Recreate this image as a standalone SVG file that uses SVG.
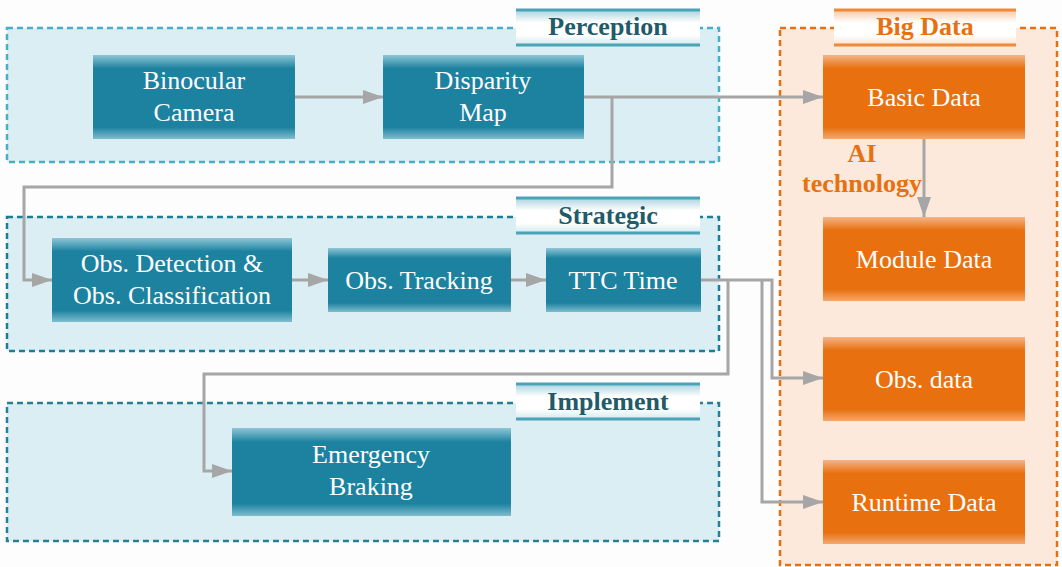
<svg xmlns="http://www.w3.org/2000/svg" width="1062" height="567" viewBox="0 0 1062 567">
<style>
.cont{stroke-width:2.5;stroke-dasharray:6 4}
.nt{font-family:"Liberation Serif","Times New Roman",serif;font-size:26px;fill:#ffffff;text-anchor:middle}
.tt{font-family:"Liberation Serif","Times New Roman",serif;font-size:26px;font-weight:bold;text-anchor:middle}
.conn{fill:none;stroke:#a6a6a6;stroke-width:3}
</style>
<defs>
<linearGradient id="gTeal" x1="0" y1="0" x2="0" y2="1">
<stop offset="0" stop-color="#8ec6d6"/><stop offset="0.16" stop-color="#1c82a0"/><stop offset="0.86" stop-color="#1c82a0"/><stop offset="1" stop-color="#7fbdce"/>
</linearGradient>
<linearGradient id="gOr" x1="0" y1="0" x2="0" y2="1">
<stop offset="0" stop-color="#f4b488"/><stop offset="0.16" stop-color="#e8700f"/><stop offset="0.86" stop-color="#e8700f"/><stop offset="1" stop-color="#f2a870"/>
</linearGradient>
<linearGradient id="gTab" x1="0" y1="0" x2="0" y2="1">
<stop offset="0" stop-color="#a9d3df"/><stop offset="0.35" stop-color="#ffffff"/><stop offset="0.7" stop-color="#ffffff"/><stop offset="1" stop-color="#cfe6ed"/>
</linearGradient>
<linearGradient id="gTabO" x1="0" y1="0" x2="0" y2="1">
<stop offset="0" stop-color="#f6c7a3"/><stop offset="0.35" stop-color="#ffffff"/><stop offset="0.7" stop-color="#ffffff"/><stop offset="1" stop-color="#fbe0cc"/>
</linearGradient>
<marker id="ah" markerWidth="20" markerHeight="14" refX="20" refY="7" orient="auto" markerUnits="userSpaceOnUse">
<path d="M0,0 L20,7 L0,14 Z" fill="#a6a6a6"/>
</marker>
</defs>
<rect width="1062" height="567" fill="#fdfdfd"/>

<g id="perception">
<rect class="cont" x="7" y="28" width="712" height="134" fill="#dbeef4" stroke="#48aec6"/>
<rect x="516" y="10" width="184" height="36" fill="url(#gTab)"/>
<line x1="516" y1="10" x2="700" y2="10" stroke="#4ba3b8" stroke-width="3"/>
<line x1="516" y1="45" x2="700" y2="45" stroke="#4ba3b8" stroke-width="3"/>
<text class="tt" x="608" y="35" fill="#1f5b69">Perception</text>
</g>

<g id="strategic">
<rect class="cont" x="7" y="217" width="712" height="134" fill="#dbeef4" stroke="#1e7d96"/>
<rect x="516" y="198" width="184" height="36" fill="url(#gTab)"/>
<line x1="516" y1="198" x2="700" y2="198" stroke="#4ba3b8" stroke-width="3"/>
<line x1="516" y1="233" x2="700" y2="233" stroke="#4ba3b8" stroke-width="3"/>
<text class="tt" x="608" y="224" fill="#1f5b69">Strategic</text>
</g>

<g id="implement">
<rect class="cont" x="7" y="403" width="712" height="138" fill="#dbeef4" stroke="#2a7f98"/>
<rect x="516" y="384" width="184" height="36" fill="url(#gTab)"/>
<line x1="516" y1="384" x2="700" y2="384" stroke="#4ba3b8" stroke-width="3"/>
<line x1="516" y1="419" x2="700" y2="419" stroke="#4ba3b8" stroke-width="3"/>
<text class="tt" x="608" y="410" fill="#1f5b69">Implement</text>
</g>

<g id="bigdata">
<rect class="cont" x="780" y="28" width="277" height="537" fill="#fce9dc" stroke="#e8700f"/>
<rect x="834" y="10" width="182" height="36" fill="url(#gTabO)"/>
<line x1="834" y1="10" x2="1016" y2="10" stroke="#ee8a3c" stroke-width="3"/>
<line x1="834" y1="45" x2="1016" y2="45" stroke="#ee8a3c" stroke-width="3"/>
<text class="tt" x="925" y="35" fill="#e8700f">Big Data</text>
<text class="tt" x="862" y="162" fill="#e8700f">AI</text>
<text class="tt" x="862" y="192" fill="#e8700f">technology</text>
</g>

<g id="binocular-camera">
<rect x="93" y="55" width="202" height="84" fill="url(#gTeal)"/>
<text class="nt" x="194" y="89">Binocular</text>
<text class="nt" x="194" y="121">Camera</text>
</g>
<g id="disparity-map">
<rect x="383" y="55" width="201" height="84" fill="url(#gTeal)"/>
<text class="nt" x="483" y="89">Disparity</text>
<text class="nt" x="483" y="121">Map</text>
</g>
<g id="obs-detection">
<rect x="52" y="238" width="240" height="84" fill="url(#gTeal)"/>
<text class="nt" x="172" y="272">Obs. Detection &amp;</text>
<text class="nt" x="172" y="304">Obs. Classification</text>
</g>
<g id="obs-tracking">
<rect x="328" y="248" width="183" height="64" fill="url(#gTeal)"/>
<text class="nt" x="419" y="289">Obs. Tracking</text>
</g>
<g id="ttc-time">
<rect x="546" y="248" width="155" height="64" fill="url(#gTeal)"/>
<text class="nt" x="623" y="289">TTC Time</text>
</g>
<g id="emergency-braking">
<rect x="232" y="428" width="279" height="88" fill="url(#gTeal)"/>
<text class="nt" x="371" y="463">Emergency</text>
<text class="nt" x="371" y="495">Braking</text>
</g>
<g id="basic-data">
<rect x="823" y="55" width="202" height="84" fill="url(#gOr)"/>
<text class="nt" x="924" y="106">Basic Data</text>
</g>
<g id="module-data">
<rect x="823" y="217" width="202" height="84" fill="url(#gOr)"/>
<text class="nt" x="924" y="268">Module Data</text>
</g>
<g id="obs-data">
<rect x="823" y="337" width="202" height="84" fill="url(#gOr)"/>
<text class="nt" x="924" y="388">Obs. data</text>
</g>
<g id="runtime-data">
<rect x="823" y="460" width="202" height="84" fill="url(#gOr)"/>
<text class="nt" x="924" y="511">Runtime Data</text>
</g>

<g id="connectors">
<path class="conn" d="M295,97 H383" marker-end="url(#ah)"/>
<path class="conn" d="M584,97 H823" marker-end="url(#ah)"/>
<path class="conn" d="M612,97 V187 H24 V280 H52" marker-end="url(#ah)"/>
<path class="conn" d="M292,280 H328" marker-end="url(#ah)"/>
<path class="conn" d="M511,280 H546" marker-end="url(#ah)"/>
<path class="conn" d="M701,280 H772 V378 H823" marker-end="url(#ah)"/>
<path class="conn" d="M762,280 V502 H823" marker-end="url(#ah)"/>
<path class="conn" d="M728,280 V374 H204 V471 H232" marker-end="url(#ah)"/>
<path class="conn" d="M924,139 V217" marker-end="url(#ah)"/>
</g>
</svg>
